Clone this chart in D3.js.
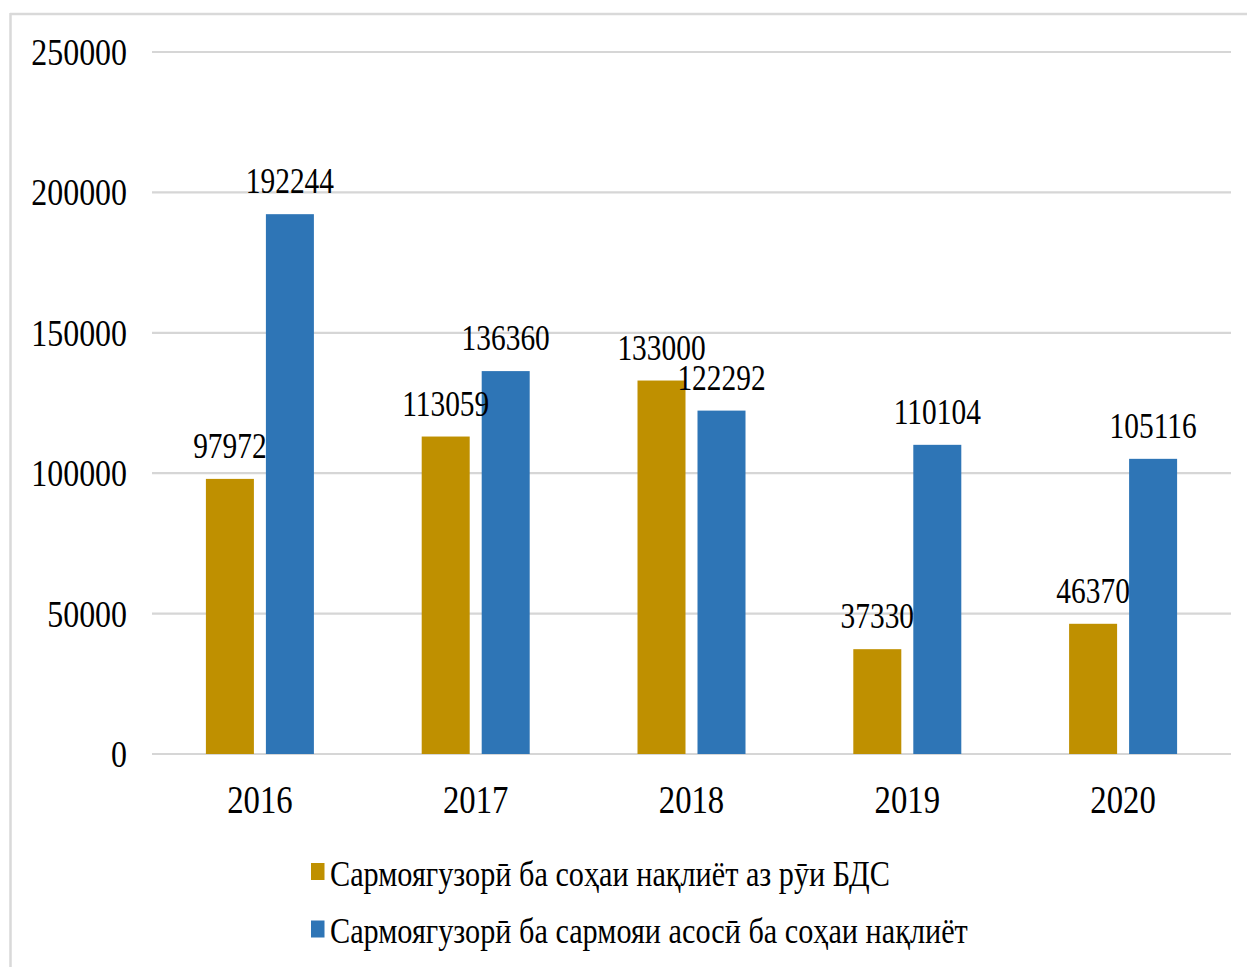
<!DOCTYPE html>
<html>
<head>
<meta charset="utf-8">
<script src="https://cdn.jsdelivr.net/npm/d3@7"></script>
<style>
  html, body { margin: 0; padding: 0; background: #fff; }
  svg { display: block; }
  text { font-family: "Liberation Serif", "Times New Roman", serif; fill: #000; }
</style>
</head>
<body>
<svg id="chart" width="1247" height="967"></svg>
<script>
const years = ["2016", "2017", "2018", "2019", "2020"];
const seriesNames = [
  "Сармоягузорӣ ба соҳаи нақлиёт аз рӯи БДС",
  "Сармоягузорӣ ба сармояи асосӣ ба соҳаи нақлиёт"
];
const valuesBDS = [97972, 113059, 133000, 37330, 46370];
const valuesFixed = [192244, 136360, 122292, 110104, 105116];
const yTicks = [0, 50000, 100000, 150000, 200000, 250000];
const colors = ["#BF9000", "#2E75B6"];

(function () {
const SX = 0.84; // horizontal text compression seen in the reference

const svg = d3.select("#chart");
const pLeft = 152, pRight = 1231, pTop = 52, pBottom = 754;

// frame (top and left edges visible)
svg.append("line").attr("x1", 10).attr("x2", 1247).attr("y1", 14).attr("y2", 14)
  .attr("stroke", "#d9d9d9").attr("stroke-width", 2.5);
svg.append("line").attr("x1", 10.5).attr("x2", 10.5).attr("y1", 13).attr("y2", 967)
  .attr("stroke", "#d9d9d9").attr("stroke-width", 2.5);

const y = d3.scaleLinear().domain([0, 250000]).range([pBottom, pTop]);
const x0 = d3.scaleBand().domain(years).range([pLeft, pRight]).padding(0);
const bw = x0.bandwidth();
const x1 = d3.scaleBand().domain([0, 1]).range([bw / 2 - 54, bw / 2 + 54]).paddingInner(0.2);

function sText(g, x, yy, str, size, anchor) {
  return g.append("g").attr("transform", `translate(${x},${yy}) scale(${SX},1)`)
    .append("text").attr("font-size", size).attr("text-anchor", anchor).text(str);
}

// gridlines
svg.append("g").selectAll("line").data(yTicks).join("line")
  .attr("x1", pLeft).attr("x2", pRight)
  .attr("y1", d => y(d)).attr("y2", d => y(d))
  .attr("stroke", "#d6d6d6").attr("stroke-width", 2.2);

// y tick labels
const yl = svg.append("g");
yTicks.forEach(t => sText(yl, 127, y(t) + 13, String(t), 38, "end"));

// bars
const data = years.map((yr, i) => ({ yr, vals: [valuesBDS[i], valuesFixed[i]] }));
const groups = svg.append("g").selectAll("g").data(data).join("g")
  .attr("transform", d => `translate(${x0(d.yr)},0)`);
groups.selectAll("rect").data(d => d.vals.map((v, k) => ({ v, k }))).join("rect")
  .attr("x", d => x1(d.k)).attr("width", x1.bandwidth())
  .attr("y", d => y(d.v)).attr("height", d => y(0) - y(d.v))
  .attr("fill", d => colors[d.k]);

// value labels
const vl = svg.append("g");
data.forEach(d => {
  d.vals.forEach((v, k) => {
    sText(vl, x0(d.yr) + x1(k) + x1.bandwidth() / 2, y(v) - 21, String(v), 35, "middle");
  });
});

// category labels
const cl = svg.append("g");
years.forEach(yr => sText(cl, x0(yr) + bw / 2, 813, yr, 39, "middle"));

// legend
const lg = svg.append("g");
const legendRows = [871.5, 929];
seriesNames.forEach((name, k) => {
  lg.append("rect").attr("x", 311).attr("y", legendRows[k] - 8.5).attr("width", 13.5).attr("height", 17)
    .attr("fill", colors[k]);
  sText(lg, 330, legendRows[k] + 14, name, 36, "start");
});
})();
</script>
</body>
</html>
